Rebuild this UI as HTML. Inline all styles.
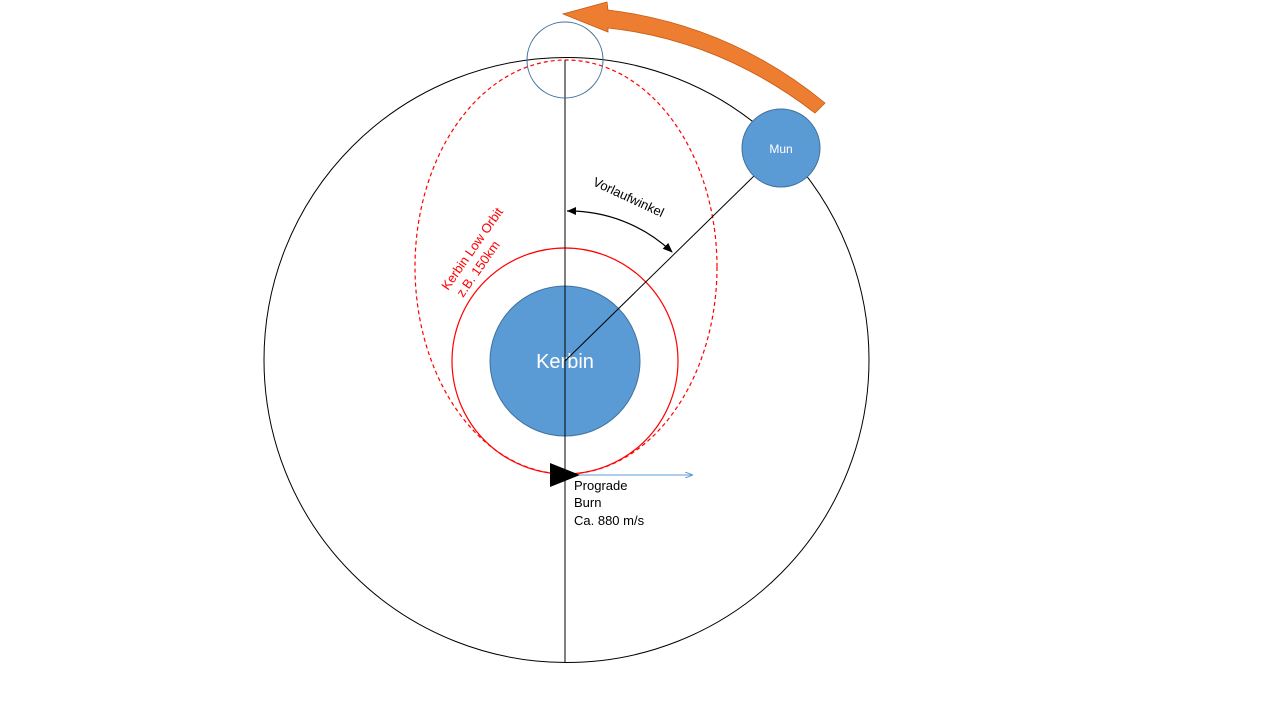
<!DOCTYPE html>
<html><head><style>body{margin:0;background:#fff}svg{display:block}</style></head><body>
<svg width="1280" height="720" xmlns="http://www.w3.org/2000/svg" font-family="Liberation Sans, sans-serif">
<defs>
<marker id="ah" markerWidth="10" markerHeight="8" refX="9" refY="4" orient="auto" markerUnits="userSpaceOnUse"><path d="M0,0 L10,4 L0,8 Z" fill="#000"/></marker>
<marker id="bh" markerWidth="8" markerHeight="6" refX="8" refY="3" orient="auto" markerUnits="userSpaceOnUse"><path d="M0,0 L8,3 L0,6" fill="none" stroke="#5b9bd5"/></marker>
</defs>
<circle cx="566.5" cy="360" r="302.5" fill="none" stroke="#000" stroke-width="1"/>
<ellipse cx="566" cy="267" rx="151" ry="207" fill="none" stroke="#f00" stroke-width="1.2" stroke-dasharray="4,3"/>
<circle cx="565" cy="361" r="113" fill="none" stroke="#f00" stroke-width="1.2"/>
<circle cx="565" cy="361" r="75" fill="#5b9bd5" stroke="#41719c"/>
<text x="565" y="368" font-size="20" fill="#fff" text-anchor="middle">Kerbin</text>
<line x1="565" y1="60" x2="565" y2="662" stroke="#000"/>
<line x1="565" y1="361" x2="755" y2="175" stroke="#000"/>
<circle cx="565" cy="60" r="38" fill="none" stroke="#41719c"/>
<circle cx="781" cy="148" r="39" fill="#5b9bd5" stroke="#41719c"/>
<text x="781" y="153" font-size="12" fill="#fff" text-anchor="middle">Mun</text>
<path d="M608,10 Q730,25 825,103 L815,113 Q720,40 608,28 L608,32 L563,14 L607,2 Z" fill="#ed7d31" stroke="#c55a11" stroke-width="0.8"/>
<path d="M567,211 A150,150 0 0 1 672,252" fill="none" stroke="#000" stroke-width="1.2" marker-start="url(#ah2)" marker-end="url(#ah)"/>
<path d="M567,211 l9,-4 l0,8 z" fill="#000"/>
<text transform="translate(592,185) rotate(25)" font-size="13" fill="#000">Vorlaufwinkel</text>
<text transform="translate(448,291) rotate(-55)" font-size="13" fill="#f00">Kerbin Low Orbit</text>
<text transform="translate(463,298) rotate(-55)" font-size="13" fill="#f00">z.B. 150km</text>
<line x1="565" y1="475" x2="693" y2="475" stroke="#5b9bd5" marker-end="url(#bh)"/>
<path d="M550,463 L580,475 L550,487 Z" fill="#000"/>
<text font-size="13" fill="#000"><tspan x="574" y="490">Prograde</tspan><tspan x="574" y="507">Burn</tspan><tspan x="574" y="525">Ca. 880 m/s</tspan></text>
</svg>
</body></html>
